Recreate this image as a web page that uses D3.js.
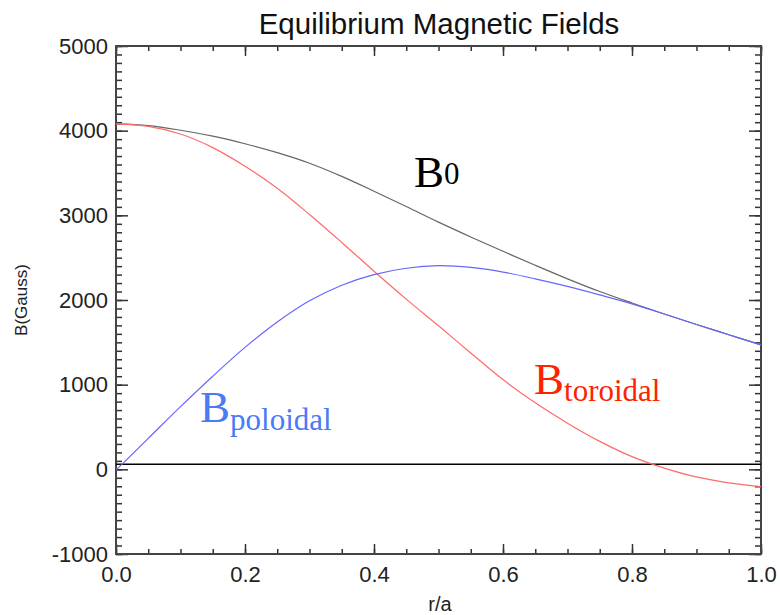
<!DOCTYPE html>
<html><head><meta charset="utf-8">
<script src="https://cdn.jsdelivr.net/npm/d3@7"></script>
<style>body{margin:0;background:#fff}</style>
</head><body><svg id="c" width="780" height="615"></svg>
<script>
// ---- data ----
const rVals      = [0,0.05,0.1,0.15,0.2,0.25,0.3,0.35,0.4,0.45,0.5,0.55,0.6,0.65,0.7,0.75,0.8,0.85,0.9,0.95,1.0];
const bTotal     = [4080,4060,4005,3935,3845,3740,3615,3460,3285,3105,2920,2745,2575,2410,2250,2100,1965,1835,1710,1590,1470];
const bPoloidal  = [-10,365,740,1100,1440,1740,1990,2175,2300,2375,2405,2385,2330,2250,2160,2060,1955,1835,1710,1590,1470];
const bToroidal  = [4080,4050,3960,3800,3580,3320,3010,2680,2340,2010,1695,1375,1060,785,545,330,150,15,-90,-160,-205];
const yTickVals  = [-1000,0,1000,2000,3000,4000,5000];
const xTickVals  = [0,0.2,0.4,0.6,0.8,1.0];
const refLevel   = 60;
const title      = "Equilibrium Magnetic Fields";
const xTitle     = "r/a";
const yTitle     = "B(Gauss)";

// ---- layout ----
const L = 116, R = 761, T = 46, B = 554;
const svg = d3.select("#c");
const x = d3.scaleLinear().domain([0,1]).range([L,R]);
const y = d3.scaleLinear().domain([-1000,5000]).range([B,T]);
const axisCol = "#333";
const fontSans = "'Liberation Sans', Arial, Helvetica, sans-serif";
const fontSerif = "'Liberation Serif', 'Times New Roman', serif";

const xMinor = d3.range(0, 1.0001, 0.05);
const yMinor = d3.range(-1000, 5001, 100);

function styleAxis(g){
  g.select(".domain").remove();
  g.selectAll(".tick line").attr("stroke", axisCol).attr("stroke-width", 1.5);
  g.selectAll(".tick text").attr("fill","#222").style("font-family", fontSans).style("font-size","22px");
}
const yFmt = d => String(d); // plain hyphen-minus as in the reference

// bottom
svg.append("g").attr("transform",`translate(0,${B})`)
  .call(d3.axisBottom(x).tickValues(xMinor).tickSize(-5).tickFormat("")).call(styleAxis);
svg.append("g").attr("transform",`translate(0,${B})`)
  .call(d3.axisBottom(x).tickValues(xTickVals).tickSize(-10).tickPadding(12).tickFormat(d3.format(".1f"))).call(styleAxis);
// top
svg.append("g").attr("transform",`translate(0,${T})`)
  .call(d3.axisTop(x).tickValues(xMinor).tickSize(-5).tickFormat("")).call(styleAxis);
svg.append("g").attr("transform",`translate(0,${T})`)
  .call(d3.axisTop(x).tickValues(xTickVals).tickSize(-10).tickFormat("")).call(styleAxis);
// left
svg.append("g").attr("transform",`translate(${L},0)`)
  .call(d3.axisLeft(y).tickValues(yMinor).tickSize(-6).tickFormat("")).call(styleAxis);
svg.append("g").attr("transform",`translate(${L},0)`)
  .call(d3.axisLeft(y).tickValues(yTickVals).tickSize(-12).tickPadding(8).tickFormat(yFmt)).call(styleAxis);
// right
svg.append("g").attr("transform",`translate(${R},0)`)
  .call(d3.axisRight(y).tickValues(yMinor).tickSize(-6).tickFormat("")).call(styleAxis);
svg.append("g").attr("transform",`translate(${R},0)`)
  .call(d3.axisRight(y).tickValues(yTickVals).tickSize(-12).tickFormat("")).call(styleAxis);

// frame
svg.append("rect").attr("x",L).attr("y",T).attr("width",R-L).attr("height",B-T)
  .attr("fill","none").attr("stroke","#444").attr("stroke-width",2);

// reference line
svg.append("line").attr("x1",x(0)).attr("x2",x(1)).attr("y1",y(refLevel)).attr("y2",y(refLevel))
  .attr("stroke","#000").attr("stroke-width",1.6);

// curves
const line = d3.line().x((d,i)=>x(rVals[i])).y(d=>y(d)).curve(d3.curveCatmullRom.alpha(0.5));
svg.append("path").datum(bTotal).attr("d",line).attr("fill","none").attr("stroke","#666").attr("stroke-width",1.2);
svg.append("path").datum(bToroidal).attr("d",line).attr("fill","none").attr("stroke","#ff6a6a").attr("stroke-width",1.2);
svg.append("path").datum(bPoloidal).attr("d",line).attr("fill","none").attr("stroke","#6666ff").attr("stroke-width",1.2);

// titles
svg.append("text").attr("x",439).attr("y",34).attr("text-anchor","middle")
  .style("font-family",fontSans).style("font-size","29.5px").attr("fill","#111").text(title);
svg.append("text").attr("x",440).attr("y",611).attr("text-anchor","middle")
  .style("font-family",fontSans).style("font-size","20px").attr("fill","#222").text(xTitle);
svg.append("text").attr("transform","translate(27,300) rotate(-90)").attr("text-anchor","middle")
  .style("font-family",fontSans).style("font-size","17px").attr("fill","#222").text(yTitle);

// series labels
function label(xp, yp, sub, subDy, col){
  const t = svg.append("text").attr("x",xp).attr("y",yp).attr("fill",col).style("font-family",fontSerif);
  t.append("tspan").style("font-size","45px").text("B");
  t.append("tspan").attr("dy",subDy).style("font-size","31px").text(sub);
}
label(414, 187, "0", -3, "#000");
label(534, 394, "toroidal", 7, "#ff2200");
label(200, 422, "poloidal", 8, "#4a7af5");
</script></body></html>
